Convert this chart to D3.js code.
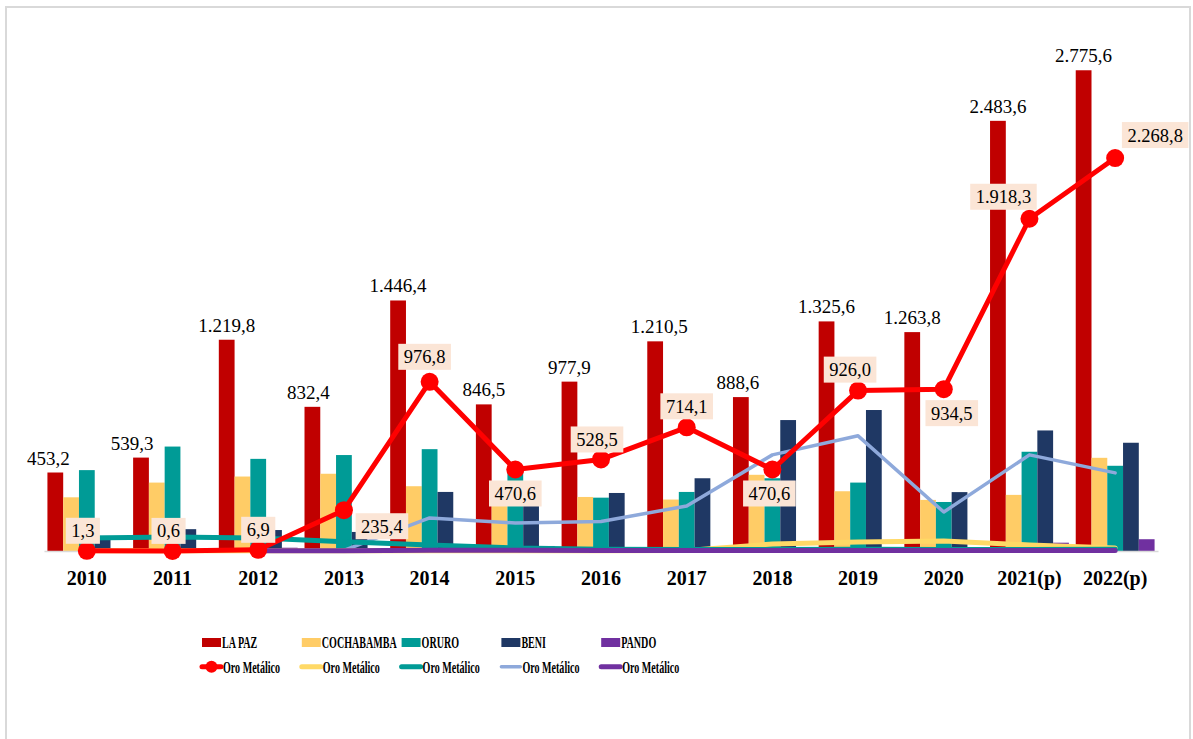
<!DOCTYPE html>
<html lang="es">
<head>
<meta charset="utf-8">
<title>Oro Metálico por departamento</title>
<script src="https://cdn.jsdelivr.net/npm/d3@7"></script>
<style>
  body { margin: 0; background: #fff; }
  svg text { font-family: "Liberation Serif", "Times New Roman", Times, "DejaVu Serif", serif; }
  .barlbl { font-size: 19px; fill: #000; text-anchor: middle; }
  .ptlbl { font-size: 18.5px; fill: #000; text-anchor: middle; }
  .xaxis text { font-size: 20px; font-weight: bold; fill: #000; }
  .leg text { font-size: 16.5px; font-weight: bold; fill: #000; }
</style>
</head>
<body>
<script>
// data
var years = ["2010","2011","2012","2013","2014","2015","2016","2017","2018","2019","2020","2021(p)","2022(p)"];
var barSeries = ["LA PAZ","COCHABAMBA","ORURO","BENI","PANDO"];

var laPaz      = [453.2, 539.3, 1219.8, 832.4, 1446.4, 846.5, 977.9, 1210.5, 888.6, 1325.6, 1263.8, 2483.6, 2775.6];
var cochabamba = [310, 395, 430, 446, 374, 300, 312, 297, 440, 345, 295, 324, 538];
var oruro      = [467, 603, 532, 554, 588, 480, 308, 341, 420, 395, 283, 573, 492];
var beni       = [87, 126, 121, 110, 341, 260, 335, 420, 756, 814, 340, 696, 625];
var pando      = [0, 0, 19, 5, 3, 29, 20, 5, 5, 5, 3, 48, 68];

// "Oro Metálico" lines
var lineLaPaz  = [1.3, 0.6, 6.9, 235.4, 976.8, 470.6, 528.5, 714.1, 470.6, 926.0, 934.5, 1918.3, 2268.8];
var lineCocha  = [1, 1, 1, 1, 1, 1, 1, 3, 40, 52, 58, 35, 18];
var lineOruro  = [75, 81, 75, 54, 35, 17, 10, 8, 8, 10, 8, 8, 10];
var lineBeni   = [null, null, null, 3, 191, 162, 170, 260, 555, 665, 225, 555, 451];
var linePando  = [null, null, 1, 2, 4, 4, 3, 3, 3, 3, 3, 3, 3];

// label placement for the red line (box centre relative to point)
var ptLblDx = [-4, -4, 0, 38, -5, 0, -4, 0, -3, -8, 8, -26, 40];
var ptLblDy = [-20, -20, -20, 16, -25, 24, -20, -21, 24, -21, 24, -22, -23];
var barLblDx = [-7, -9, 0, -4, 0, 0, 0, 4, -3, 0, 0, 0, 0];

var barColors = ["#C00000", "#FFCC66", "#009B96", "#1F3864", "#7030A0"];
var lineColors = ["#FF0000", "#FFD966", "#009B96", "#8EA9DB", "#7030A0"];

var fmt = d3.formatLocale({decimal: ",", thousands: ".", grouping: [3], currency: ["", ""]}).format(",.1f");

var W = 1193, H = 739;
var svg = d3.select("body").append("svg").attr("width", W).attr("height", H);

svg.append("rect").attr("x", 6).attr("y", 7).attr("width", 1184).attr("height", 760)
  .attr("fill", "#fff").attr("stroke", "#d9d9d9").attr("stroke-width", 2);

var x0 = d3.scaleBand().domain(years).range([44, 1158]).paddingInner(0.08).paddingOuter(0.04);
var x1 = d3.scaleBand().domain(barSeries).range([0, x0.bandwidth()]);
var y = d3.scaleLinear().domain([0, 3000]).range([551, 551 - 3000 * 0.1732]);
var cx = function(i) { return x0(years[i]) + x0.bandwidth() / 2; };

var barData = [laPaz, cochabamba, oruro, beni, pando];

// bars
var groups = svg.append("g").selectAll("g").data(years).enter().append("g")
  .attr("transform", function(d) { return "translate(" + x0(d) + ",0)"; });
groups.selectAll("rect")
  .data(function(d, i) { return barSeries.map(function(s, k) { return {s: s, k: k, v: barData[k][i]}; }); })
  .enter().append("rect")
  .attr("x", function(d) { return x1(d.s); })
  .attr("width", x1.bandwidth())
  .attr("y", function(d) { return y(d.v); })
  .attr("height", function(d) { return y(0) - y(d.v); })
  .attr("fill", function(d) { return barColors[d.k]; });

// x axis
var xAxis = svg.append("g").attr("class", "xaxis").attr("transform", "translate(0," + y(0) + ")")
  .call(d3.axisBottom(x0).tickSize(0).tickPadding(20));
xAxis.attr("font-family", null);
xAxis.select(".domain").attr("stroke", "#d9d9d9").attr("stroke-width", 1.5);

// lines
var lineGen = d3.line()
  .defined(function(d) { return d != null; })
  .x(function(d, i) { return cx(i); })
  .y(function(d) { return y(d); });

var lines = [
  {v: lineBeni, c: lineColors[3], w: 3.5},
  {v: lineCocha, c: lineColors[1], w: 5},
  {v: lineOruro, c: lineColors[2], w: 5},
  {v: linePando, c: lineColors[4], w: 5},
  {v: lineLaPaz, c: lineColors[0], w: 5}
];
svg.append("g").selectAll("path").data(lines).enter().append("path")
  .attr("d", function(d) { return lineGen(d.v); })
  .attr("fill", "none")
  .attr("stroke", function(d) { return d.c; })
  .attr("stroke-width", function(d) { return d.w; })
  .attr("stroke-linecap", "round")
  .attr("stroke-linejoin", "round");

svg.append("g").selectAll("circle").data(lineLaPaz).enter().append("circle")
  .attr("cx", function(d, i) { return cx(i); })
  .attr("cy", function(d) { return y(d); })
  .attr("r", 9)
  .attr("fill", "#FF0000");

// La Paz bar labels
svg.append("g").selectAll("text").data(laPaz).enter().append("text")
  .attr("class", "barlbl")
  .attr("x", function(d, i) { return x0(years[i]) + x1("LA PAZ") + x1.bandwidth() / 2 + barLblDx[i]; })
  .attr("y", function(d) { return y(d) - 8; })
  .text(function(d) { return fmt(d); });

// red line labels with peach boxes
var pl = svg.append("g").selectAll("g").data(lineLaPaz).enter().append("g")
  .attr("transform", function(d, i) { return "translate(" + (cx(i) + ptLblDx[i]) + "," + (y(d) + ptLblDy[i]) + ")"; });
pl.append("rect").attr("fill", "#FBE5D6");
pl.append("text").attr("class", "ptlbl").attr("y", 6.5).text(function(d) { return fmt(d); });
pl.each(function() {
  var g = d3.select(this);
  var w = g.select("text").node().getComputedTextLength() + 11;
  g.select("rect").attr("x", -w / 2).attr("y", -13).attr("width", w).attr("height", 26);
});

// legend
var leg = svg.append("g").attr("class", "leg");
var lx = function(i) { return 202 + i * 99.8; };
barSeries.forEach(function(s, i) {
  leg.append("rect").attr("x", lx(i)).attr("y", 638).attr("width", 19).attr("height", 9).attr("fill", barColors[i]);
  leg.append("text").attr("transform", "translate(" + (lx(i) + 20) + ",648) scale(0.61,1)").text(s);
});
lineColors.forEach(function(c, i) {
  leg.append("line").attr("x1", lx(i)).attr("x2", lx(i) + 19).attr("y1", 666.7).attr("y2", 666.7)
    .attr("stroke", c).attr("stroke-width", i === 3 ? 3.5 : 5).attr("stroke-linecap", "round");
  if (i === 0) leg.append("circle").attr("cx", lx(i) + 9.5).attr("cy", 666.7).attr("r", 6).attr("fill", c);
  leg.append("text").attr("transform", "translate(" + (lx(i) + 21) + ",672.5) scale(0.61,1)").text("Oro Metálico");
});
</script>
</body>
</html>
